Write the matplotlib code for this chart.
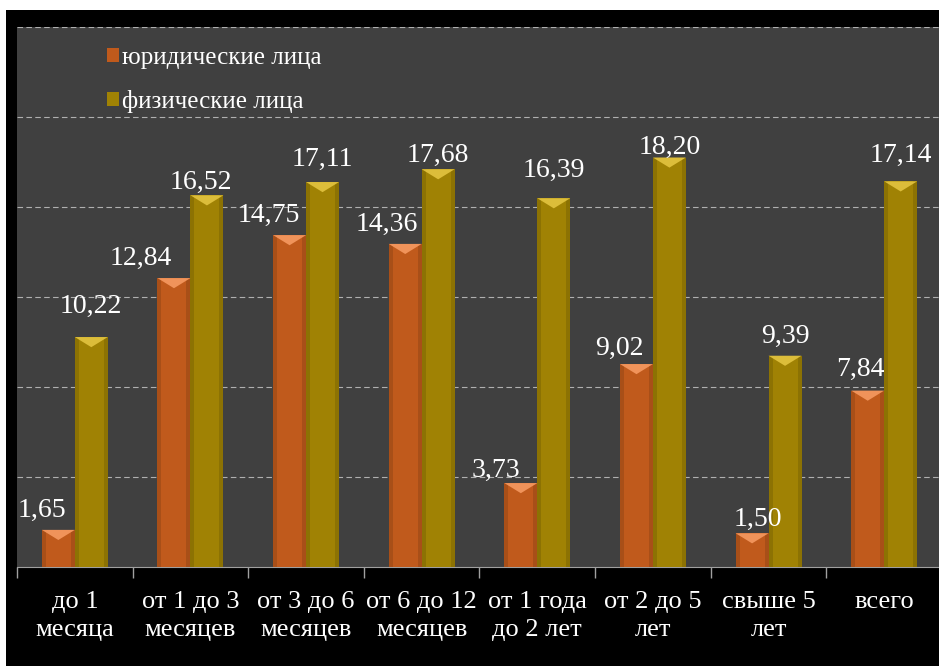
import matplotlib.pyplot as plt
import matplotlib.patches as mpatches
import numpy as np

plt.rcParams['font.family'] = ['Liberation Serif', 'DejaVu Serif']

# ------------------------- DATOS -------------------------
categorias = ['до 1\nмесяца', 'от 1 до 3\nмесяцев', 'от 3 до 6\nмесяцев', 'от 6 до 12\nмесяцев',
              'от 1 года\nдо 2 лет', 'от 2 до 5\nлет', 'свыше 5\nлет', 'всего']
juridicas = [1.65, 12.84, 14.75, 14.36, 3.73, 9.02, 1.50, 7.84]
fisicas = [10.22, 16.52, 17.11, 17.68, 16.39, 18.20, 9.39, 17.14]
etiquetas_jur = ['1,65', '12,84', '14,75', '14,36', '3,73', '9,02', '1,50', '7,84']
etiquetas_fis = ['10,22', '16,52', '17,11', '17,68', '16,39', '18,20', '9,39', '17,14']
nombres = ['юридические лица', 'физические лица']

# desplazamientos de las etiquetas (puntos)
dx_jur = [-12, -24, -15, -13, -18, -12, 4, -5]
dy_jur = [14, 14, 14, 14, 9, 11, 10, 15]
dx_fis = [0, -4, 0, 0, 0, 0, 0, 0]
dy_fis = [22, 9, 16, 10, 20, 7, 14, 19]

C_JUR = '#c05a1c'
C_JUR_L = '#f0935a'
C_FIS = '#a08204'
C_FIS_L = '#dcbd3a'

fig = plt.figure(figsize=(9.39, 6.66), dpi=100)
fig.patch.set_facecolor('white')
# marco negro
marco = mpatches.Rectangle((6 / 939, 0), 1, 656 / 666, transform=fig.transFigure,
                           facecolor='black', edgecolor='none', zorder=-5)
fig.add_artist(marco)

ax = fig.add_axes([17 / 939, 99 / 666, 925 / 939, 540 / 666])
ax.set_zorder(2)
ax.set_facecolor('#404040')

x = np.arange(len(categorias))
w = 0.285
bev = 0.45


def barras(xs, vals, color, color_l):
    ax.bar(xs, vals, width=w, color=color, edgecolor='none', zorder=3)
    for xi, v in zip(xs, vals):
        # bordes mas oscuros
        ax.add_patch(mpatches.Rectangle((xi - w / 2, 0), w * 0.12, v, facecolor='black',
                                        alpha=0.12, edgecolor='none', zorder=4))
        ax.add_patch(mpatches.Rectangle((xi + w / 2 - w * 0.12, 0), w * 0.12, v, facecolor='black',
                                        alpha=0.12, edgecolor='none', zorder=4))
        # bisel superior
        tri = mpatches.Polygon([(xi - w / 2, v), (xi + w / 2, v), (xi, v - bev)],
                               closed=True, facecolor=color_l, edgecolor='none', zorder=5)
        ax.add_patch(tri)


barras(x - w / 2, juridicas, C_JUR, C_JUR_L)
barras(x + w / 2, fisicas, C_FIS, C_FIS_L)

for i in range(len(categorias)):
    ax.annotate(etiquetas_jur[i], (x[i] - w / 2, juridicas[i]), xytext=(dx_jur[i], dy_jur[i]),
                textcoords='offset points', ha='center', va='center', color='white', fontsize=20, zorder=6)
    ax.annotate(etiquetas_fis[i], (x[i] + w / 2, fisicas[i]), xytext=(dx_fis[i], dy_fis[i]),
                textcoords='offset points', ha='center', va='center', color='white', fontsize=20, zorder=6)

# ------------------------ EJES ------------------------
ax.set_xlim(-0.5, len(categorias) - 0.5)
ax.set_ylim(0, 24)
ax.set_yticks([4, 8, 12, 16, 20, 24])
ax.tick_params(axis='y', left=False, labelleft=False)
ax.grid(axis='y', color='#b0b0b0', linestyle=(0, (5, 3)), linewidth=0.8, zorder=1)

ax.set_xticks(np.arange(len(categorias) + 1) - 0.5)
ax.set_xticklabels([])
ax.tick_params(axis='x', which='major', length=8, color='#a0a0a0', width=1)
ax.set_xticks(x, minor=True)
ax.set_xticklabels(categorias, minor=True, color='white', fontsize=19, linespacing=1.32)
ax.tick_params(axis='x', which='minor', length=0, pad=17.5)

for s in ['top', 'right', 'left']:
    ax.spines[s].set_visible(False)
ax.spines['bottom'].set_color('#a0a0a0')

handles = [mpatches.Patch(facecolor=C_JUR, edgecolor='none'),
           mpatches.Patch(facecolor=C_FIS, edgecolor='none')]
leg = ax.legend(handles, nombres, loc='upper left', bbox_to_anchor=(0.0735, 1.005), frameon=False,
                fontsize=18, handlelength=0.45, handleheight=0.45, handletextpad=0.15, labelspacing=0.85)
for t in leg.get_texts():
    t.set_color('white')

fig.savefig('out.png', dpi=100, facecolor=fig.get_facecolor())
